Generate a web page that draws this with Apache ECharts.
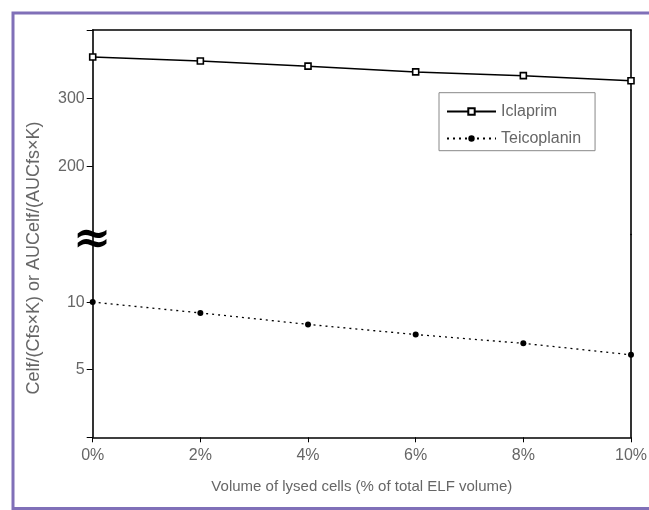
<!DOCTYPE html>
<html>
<head>
<meta charset="utf-8">
<script src="https://cdn.jsdelivr.net/npm/echarts@6/dist/echarts.min.js"></script>
<style>html,body{margin:0;padding:0;background:#fff;}#c{width:649px;height:510px;}</style>
</head>
<body>
<div id="c"></div>
<script>
var xValues = [0, 2, 4, 6, 8, 10];
var iclaprim = [360.5, 354.5, 347, 338.5, 333, 325.5];
var teicoplanin = [10, 9.2, 8.35, 7.6, 6.95, 6.1];
var xTicks = [0, 2, 4, 6, 8, 10];
var upperTicks = [200, 300, 400];
var upperLabels = [200, 300];
var lowerTicks = [0, 5, 10];
var lowerLabels = [5, 10];

var FONT = "'Liberation Sans', Arial, sans-serif";
var GRAY = '#666';

function pairs(xs, ys) { return xs.map(function (x, i) { return [x, ys[i]]; }); }

var chart = echarts.init(document.getElementById('c'), null, { renderer: 'canvas' });
var axisLine = { show: true, onZero: false, lineStyle: { color: '#000', width: 1.6 } };
var option = {
  animation: false,
  backgroundColor: '#fff',
  grid: [
    { left: 92.7, right: 18, top: 30, bottom: 275.5, outerBoundsMode: 'none', containLabel: false },
    { left: 92.7, right: 18, top: 234.5, bottom: 72.7, outerBoundsMode: 'none', containLabel: false }
  ],
  xAxis: [
    { type: 'value', gridIndex: 0, position: 'top', min: 0, max: 10, interval: 2,
      axisLine: axisLine, axisTick: { show: false }, axisLabel: { show: false }, splitLine: { show: false } },
    { type: 'value', gridIndex: 1, min: 0, max: 10, interval: 2,
      name: 'Volume of lysed cells (% of total ELF volume)', nameLocation: 'middle', nameGap: 42,
      nameTextStyle: { color: GRAY, fontSize: 15, fontFamily: FONT },
      axisLine: axisLine,
      axisTick: { show: true, length: 5, lineStyle: { color: '#000', width: 1 }, customValues: xTicks },
      axisLabel: { color: GRAY, fontSize: 16, fontFamily: FONT, margin: 10, formatter: '{value}%', customValues: xTicks },
      splitLine: { show: false } }
  ],
  yAxis: [
    { type: 'value', gridIndex: 0, min: 100, max: 400, interval: 100,
      axisLine: axisLine,
      axisTick: { show: true, length: 6, lineStyle: { color: '#000', width: 1 }, customValues: upperTicks },
      axisLabel: { color: GRAY, fontSize: 16, fontFamily: FONT, margin: 8, customValues: upperLabels },
      splitLine: { show: false } },
    { type: 'value', gridIndex: 1, min: 0, max: 15, interval: 5,
      axisLine: axisLine,
      axisTick: { show: true, length: 6, lineStyle: { color: '#000', width: 1 }, customValues: lowerTicks },
      axisLabel: { color: GRAY, fontSize: 16, fontFamily: FONT, margin: 8, customValues: lowerLabels },
      splitLine: { show: false } },
    { type: 'value', gridIndex: 0, position: 'right', min: 100, max: 400,
      axisLine: axisLine, axisTick: { show: false }, axisLabel: { show: false }, splitLine: { show: false } },
    { type: 'value', gridIndex: 1, position: 'right', min: 0, max: 15,
      axisLine: axisLine, axisTick: { show: false }, axisLabel: { show: false }, splitLine: { show: false } }
  ],
  legend: {
    orient: 'vertical', left: 439, top: 92.7,
    padding: [10.8, 14, 4.2, 7], itemGap: 11, itemWidth: 49, itemHeight: 8,
    borderColor: '#888', borderWidth: 1, backgroundColor: '#fff',
    textStyle: { color: GRAY, fontSize: 16, fontFamily: FONT },
    data: ['Iclaprim', 'Teicoplanin']
  },
  series: [
    { name: 'Iclaprim', type: 'line', xAxisIndex: 0, yAxisIndex: 0,
      data: pairs(xValues, iclaprim), symbol: 'rect', symbolSize: 6,
      lineStyle: { color: '#000', width: 1.5 },
      itemStyle: { color: '#fff', borderColor: '#000', borderWidth: 1.6 }, z: 5 },
    { name: 'Teicoplanin', type: 'line', xAxisIndex: 1, yAxisIndex: 1,
      data: pairs(xValues, teicoplanin), symbol: 'circle', symbolSize: 6,
      lineStyle: { color: '#000', width: 1.3, type: [2, 4] },
      itemStyle: { color: '#000', borderColor: '#000', borderWidth: 0 }, z: 5 }
  ],
  graphic: [
    { type: 'polyline', silent: true, shape: { points: [[649, 13], [13, 13], [13, 508.5], [649, 508.5]] },
      style: { stroke: '#8070b8', lineWidth: 3, fill: null } },
    { type: 'text', x: 34, y: 258, rotation: Math.PI / 2,
      style: { text: 'Celf/(Cfs\u00d7K) or AUCelf/(AUCfs\u00d7K)', fill: GRAY, fontSize: 18, fontFamily: FONT,
        align: 'center', verticalAlign: 'middle' } },
    { type: 'text', x: 92, y: 241, z: 100,
      style: { text: '\u2248', fill: '#000', fontSize: 46, fontWeight: 'bold', fontFamily: "'DejaVu Serif', serif",
        align: 'center', verticalAlign: 'middle' } }
  ]
};
chart.setOption(option);
</script>
</body>
</html>
